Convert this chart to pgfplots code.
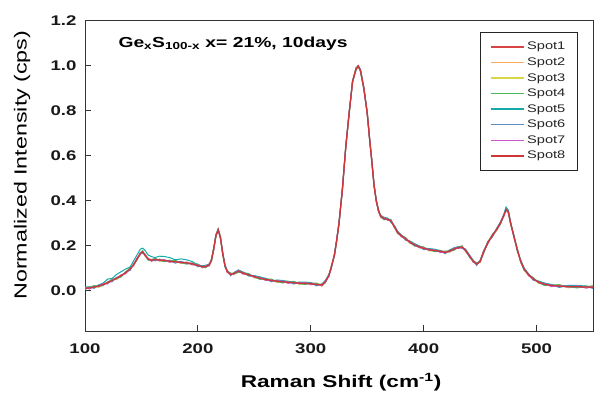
\documentclass[border=0pt]{standalone}
\usepackage{fontspec}
\setmainfont{Liberation Sans}[FakeStretch=1.33]
\usepackage{pgfplots}
\usepackage{pgfplotstable}
\pgfplotsset{compat=1.18}

\definecolor{spotA}{RGB}{214,69,65}
\definecolor{spotB}{RGB}{250,170,90}
\definecolor{spotC}{RGB}{215,215,70}
\definecolor{spotD}{RGB}{70,185,95}
\definecolor{spotE}{RGB}{20,170,170}
\definecolor{spotF}{RGB}{90,140,200}
\definecolor{spotG}{RGB}{205,85,205}
\definecolor{spotH}{RGB}{205,55,55}

% Normalized Raman spectra, eight spots on the same sample
\pgfplotstableread{
x   s1    s2    s3    s4    s5    s6    s7    s8
100 0.013 0.006 0.012 0.005 0.016 0.008 0.014 0.010
104 0.009 0.017 0.008 0.014 0.016 0.015 0.007 0.012
108 0.021 0.014 0.020 0.022 0.013 0.010 0.018 0.016
112 0.016 0.023 0.014 0.018 0.025 0.024 0.017 0.020
116 0.030 0.023 0.029 0.022 0.033 0.025 0.031 0.027
120 0.032 0.040 0.031 0.037 0.051 0.038 0.030 0.035
124 0.050 0.043 0.049 0.051 0.054 0.039 0.047 0.045
128 0.051 0.058 0.049 0.053 0.072 0.059 0.052 0.055
132 0.069 0.062 0.068 0.061 0.084 0.064 0.070 0.066
136 0.077 0.085 0.076 0.082 0.096 0.083 0.075 0.080
140 0.101 0.094 0.100 0.102 0.105 0.090 0.098 0.096
143 0.111 0.118 0.109 0.113 0.132 0.119 0.112 0.115
146 0.143 0.136 0.142 0.135 0.158 0.138 0.144 0.140
149 0.162 0.170 0.161 0.167 0.184 0.168 0.160 0.165
151 0.177 0.170 0.176 0.178 0.189 0.166 0.174 0.172
153 0.156 0.163 0.154 0.158 0.180 0.164 0.157 0.160
156 0.143 0.136 0.142 0.135 0.158 0.138 0.144 0.140
159 0.132 0.140 0.131 0.137 0.151 0.138 0.130 0.135
162 0.143 0.136 0.142 0.144 0.147 0.132 0.140 0.138
166 0.132 0.139 0.130 0.134 0.153 0.140 0.133 0.136
170 0.137 0.130 0.136 0.129 0.152 0.132 0.138 0.134
175 0.128 0.136 0.127 0.133 0.147 0.134 0.126 0.131
180 0.133 0.126 0.132 0.134 0.137 0.122 0.130 0.128
185 0.122 0.129 0.120 0.124 0.141 0.130 0.123 0.126
190 0.126 0.119 0.125 0.118 0.137 0.121 0.127 0.123
195 0.116 0.124 0.115 0.121 0.129 0.122 0.114 0.119
200 0.117 0.110 0.116 0.118 0.113 0.106 0.114 0.112
204 0.102 0.109 0.100 0.104 0.111 0.110 0.103 0.106
207 0.110 0.103 0.109 0.102 0.113 0.105 0.111 0.107
210 0.111 0.119 0.110 0.116 0.118 0.117 0.109 0.114
212 0.140 0.133 0.139 0.141 0.132 0.129 0.137 0.135
214 0.181 0.188 0.179 0.183 0.190 0.189 0.182 0.185
216 0.248 0.241 0.247 0.240 0.251 0.243 0.249 0.245
218 0.267 0.275 0.266 0.272 0.274 0.273 0.265 0.270
220 0.240 0.233 0.239 0.241 0.232 0.229 0.237 0.235
222 0.161 0.168 0.159 0.163 0.170 0.169 0.162 0.165
224 0.113 0.106 0.112 0.105 0.116 0.108 0.114 0.110
226 0.082 0.090 0.081 0.087 0.089 0.088 0.080 0.085
229 0.077 0.070 0.076 0.078 0.069 0.066 0.074 0.072
232 0.072 0.079 0.070 0.074 0.081 0.080 0.073 0.076
236 0.089 0.082 0.088 0.081 0.092 0.084 0.090 0.086
240 0.075 0.083 0.074 0.080 0.082 0.081 0.073 0.078
245 0.075 0.068 0.074 0.076 0.067 0.064 0.072 0.070
250 0.058 0.065 0.056 0.060 0.067 0.066 0.059 0.062
255 0.058 0.051 0.057 0.050 0.061 0.053 0.059 0.055
260 0.047 0.055 0.046 0.052 0.054 0.053 0.045 0.050
265 0.050 0.043 0.049 0.051 0.042 0.039 0.047 0.045
270 0.038 0.045 0.036 0.040 0.047 0.046 0.039 0.042
275 0.042 0.035 0.041 0.034 0.045 0.037 0.043 0.039
280 0.034 0.042 0.033 0.039 0.041 0.040 0.032 0.037
285 0.040 0.033 0.039 0.041 0.032 0.029 0.037 0.035
290 0.029 0.036 0.027 0.031 0.038 0.037 0.030 0.033
295 0.035 0.028 0.034 0.027 0.038 0.030 0.036 0.032
300 0.028 0.036 0.027 0.033 0.035 0.034 0.026 0.031
305 0.032 0.025 0.031 0.033 0.024 0.021 0.029 0.027
310 0.021 0.028 0.019 0.023 0.030 0.029 0.022 0.025
313 0.043 0.036 0.042 0.035 0.046 0.038 0.044 0.040
316 0.064 0.072 0.063 0.069 0.071 0.070 0.062 0.067
318 0.105 0.098 0.104 0.106 0.097 0.094 0.102 0.100
321 0.156 0.163 0.154 0.158 0.165 0.164 0.157 0.160
323 0.228 0.221 0.227 0.220 0.231 0.223 0.229 0.225
325 0.297 0.305 0.296 0.302 0.304 0.303 0.295 0.300
328 0.455 0.448 0.454 0.456 0.447 0.444 0.452 0.450
331 0.636 0.643 0.634 0.638 0.645 0.644 0.637 0.640
334 0.793 0.786 0.792 0.785 0.796 0.788 0.794 0.790
337 0.927 0.935 0.926 0.932 0.934 0.933 0.925 0.930
340 0.990 0.983 0.989 0.991 0.982 0.979 0.987 0.985
342 1.000 1.000 1.000 1.000 1.000 1.000 1.000 1.000
344 0.976 0.983 0.974 0.978 0.985 0.984 0.977 0.980
347 0.903 0.896 0.902 0.895 0.906 0.898 0.904 0.900
350 0.787 0.795 0.786 0.792 0.794 0.793 0.785 0.790
352 0.685 0.678 0.684 0.686 0.677 0.674 0.682 0.680
354 0.576 0.583 0.574 0.578 0.585 0.584 0.577 0.580
356 0.473 0.466 0.472 0.465 0.476 0.468 0.474 0.470
358 0.397 0.405 0.396 0.402 0.404 0.403 0.395 0.400
360 0.360 0.353 0.359 0.361 0.352 0.349 0.357 0.355
362 0.326 0.333 0.324 0.328 0.335 0.334 0.327 0.330
365 0.323 0.316 0.322 0.315 0.326 0.318 0.324 0.320
368 0.315 0.323 0.314 0.320 0.322 0.321 0.313 0.318
371 0.315 0.308 0.314 0.316 0.307 0.304 0.312 0.310
374 0.281 0.288 0.279 0.283 0.290 0.289 0.282 0.285
377 0.261 0.254 0.260 0.253 0.264 0.256 0.262 0.258
380 0.242 0.250 0.241 0.247 0.249 0.248 0.240 0.245
384 0.235 0.228 0.234 0.236 0.227 0.224 0.232 0.230
388 0.211 0.218 0.209 0.213 0.220 0.219 0.212 0.215
392 0.206 0.199 0.205 0.198 0.209 0.201 0.207 0.203
396 0.192 0.200 0.191 0.197 0.199 0.198 0.190 0.195
400 0.193 0.186 0.192 0.194 0.185 0.182 0.190 0.188
405 0.178 0.185 0.176 0.180 0.187 0.186 0.179 0.182
410 0.181 0.174 0.180 0.173 0.184 0.176 0.182 0.178
415 0.171 0.179 0.170 0.176 0.178 0.177 0.169 0.174
419 0.175 0.168 0.174 0.176 0.167 0.164 0.172 0.170
423 0.172 0.179 0.170 0.174 0.181 0.180 0.173 0.176
427 0.188 0.181 0.187 0.180 0.191 0.183 0.189 0.185
431 0.189 0.197 0.188 0.194 0.196 0.195 0.187 0.192
434 0.198 0.191 0.197 0.199 0.190 0.187 0.195 0.193
437 0.176 0.183 0.174 0.178 0.185 0.184 0.177 0.180
441 0.153 0.146 0.152 0.145 0.156 0.148 0.154 0.150
444 0.127 0.135 0.126 0.132 0.134 0.133 0.125 0.130
447 0.123 0.116 0.122 0.124 0.115 0.112 0.120 0.118
450 0.126 0.133 0.124 0.128 0.135 0.134 0.127 0.130
453 0.173 0.166 0.172 0.165 0.176 0.168 0.174 0.170
457 0.212 0.220 0.211 0.217 0.219 0.218 0.210 0.215
461 0.250 0.243 0.249 0.251 0.242 0.239 0.247 0.245
465 0.271 0.278 0.269 0.273 0.280 0.279 0.272 0.275
468 0.303 0.296 0.302 0.295 0.306 0.298 0.304 0.300
471 0.332 0.340 0.331 0.337 0.339 0.338 0.330 0.335
473 0.365 0.358 0.364 0.366 0.372 0.354 0.362 0.360
475 0.346 0.353 0.344 0.348 0.358 0.354 0.347 0.350
477 0.303 0.296 0.302 0.295 0.306 0.298 0.304 0.300
480 0.237 0.245 0.236 0.242 0.244 0.243 0.235 0.240
483 0.185 0.178 0.184 0.186 0.177 0.174 0.182 0.180
486 0.126 0.133 0.124 0.128 0.135 0.134 0.127 0.130
489 0.098 0.091 0.097 0.090 0.101 0.093 0.099 0.095
493 0.067 0.075 0.066 0.072 0.074 0.073 0.065 0.070
497 0.057 0.050 0.056 0.058 0.049 0.046 0.054 0.052
502 0.033 0.040 0.031 0.035 0.042 0.041 0.034 0.037
507 0.031 0.024 0.030 0.023 0.034 0.026 0.032 0.028
513 0.020 0.028 0.019 0.025 0.027 0.026 0.018 0.023
520 0.025 0.018 0.024 0.026 0.017 0.014 0.022 0.020
528 0.014 0.021 0.012 0.016 0.023 0.022 0.015 0.018
536 0.020 0.013 0.019 0.012 0.023 0.015 0.021 0.017
544 0.013 0.021 0.012 0.018 0.020 0.019 0.011 0.016
550 0.020 0.013 0.019 0.021 0.012 0.009 0.017 0.015
}\spectra

\begin{document}
\begin{tikzpicture}
\begin{axis}[
  at={(0pt,0pt)}, anchor=south west,
  scale only axis, width=508pt, height=310pt,
  xmin=100, xmax=550, ymin=-0.18, ymax=1.2,
  xtick={100,200,300,400,500},
  ytick={0,0.2,0.4,0.6,0.8,1.0,1.2},
  tick pos=left, tick align=inside,
  major tick length=6pt,
  axis line style={black!80, line width=1pt},
  every tick/.style={black!80, line width=1pt},
  /pgf/number format/assume math mode=true,
  yticklabel style={/pgf/number format/.cd, fixed, fixed zerofill, precision=1,
    /tikz/.cd, xshift=-5pt},
  xticklabel style={/pgf/number format/.cd, fixed, precision=0,
    /tikz/.cd, yshift=-9pt},
  ticklabel style={font=\fontsize{14}{16}\selectfont\bfseries, text=black!90},
  xlabel={Raman Shift (cm\textsuperscript{-1})},
  xlabel style={font=\fontsize{17}{19}\selectfont\bfseries,
    at={(axis description cs:0.504,-0.165)}, anchor=center},
  ylabel={Normalized Intensity (cps)},
  ylabel style={font=\fontsize{17.5}{19}\selectfont,
    at={(axis description cs:-0.124,0.535)}, anchor=center},
  legend style={at={(axis description cs:0.970,0.965)}, anchor=north east,
    draw=black!85, line width=0.8pt, font=\fontsize{11}{12}\selectfont,
    text=black!85, row sep=2.4pt, inner xsep=10pt, inner ysep=8pt},
  legend cell align=left,
  legend image code/.code={\draw[#1, line width=1.5pt] (0pt,0pt) -- (33pt,0pt);},
  every axis plot/.append style={line width=1pt},
]
\addplot[spotA] table[x=x, y=s1] {\spectra}; \addlegendentry{Spot1}
\addplot[spotB] table[x=x, y=s2] {\spectra}; \addlegendentry{Spot2}
\addplot[spotC] table[x=x, y=s3] {\spectra}; \addlegendentry{Spot3}
\addplot[spotD] table[x=x, y=s4] {\spectra}; \addlegendentry{Spot4}
\addplot[spotE] table[x=x, y=s5] {\spectra}; \addlegendentry{Spot5}
\addplot[spotF] table[x=x, y=s6] {\spectra}; \addlegendentry{Spot6}
\addplot[spotG] table[x=x, y=s7] {\spectra}; \addlegendentry{Spot7}
\addplot[spotH, line width=1.3pt] table[x=x, y=s8] {\spectra}; \addlegendentry{Spot8}

\node[anchor=base west, font=\fontsize{14.5}{17}\selectfont\bfseries]
  at (axis description cs:0.059,0.916)
  {Ge\textsubscript{x}S\textsubscript{100-x} x= 21\%, 10days};
\end{axis}
\pgfresetboundingbox
\path[use as bounding box]
  ([xshift=-85pt,yshift=-63pt]current axis.south west)
  rectangle ([xshift=2pt,yshift=21pt]current axis.north east);
\end{tikzpicture}
\end{document}
